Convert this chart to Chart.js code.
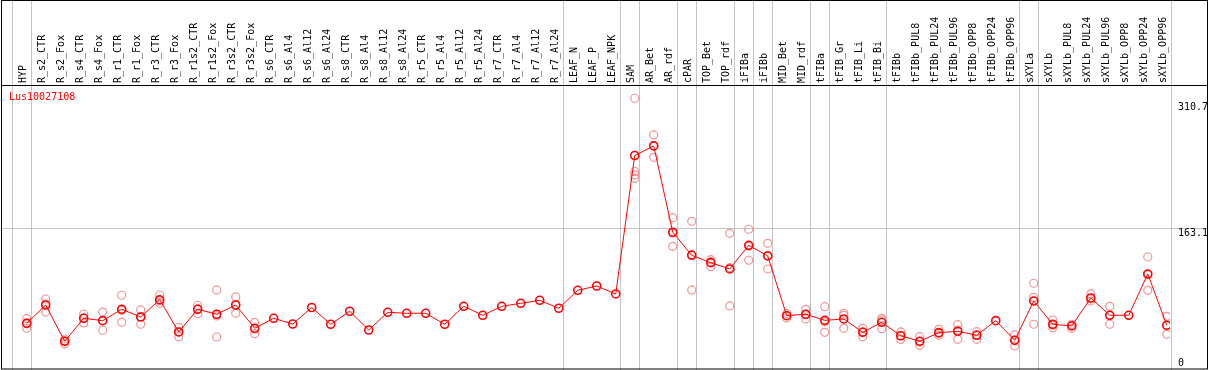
<!DOCTYPE html>
<html>
<head>
<meta charset="utf-8">
<script src="https://cdn.jsdelivr.net/npm/chart.js@4/dist/chart.umd.min.js"></script>
<style>
  html, body { margin: 0; padding: 0; background: #fff; }
  canvas { display: block; }
</style>
</head>
<body>
<canvas id="expr" width="1209" height="370"></canvas>
<script>
const geneName = 'Lus10027108';

const categories = [
  'HYP', 'R_s2_CTR', 'R_s2_Fox', 'R_s4_CTR', 'R_s4_Fox', 'R_r1_CTR', 'R_r1_Fox', 'R_r3_CTR', 'R_r3_Fox',
  'R_r1s2_CTR', 'R_r1s2_Fox', 'R_r3s2_CTR', 'R_r3s2_Fox',
  'R_s6_CTR', 'R_s6_Al4', 'R_s6_Al12', 'R_s6_Al24', 'R_s8_CTR', 'R_s8_Al4', 'R_s8_Al12', 'R_s8_Al24',
  'R_r5_CTR', 'R_r5_Al4', 'R_r5_Al12', 'R_r5_Al24', 'R_r7_CTR', 'R_r7_Al4', 'R_r7_Al12', 'R_r7_Al24',
  'LEAF_N', 'LEAF_P', 'LEAF_NPK', 'SAM', 'AR_Bet', 'AR_rdf', 'cPAR', 'TOP_Bet', 'TOP_rdf',
  'iFIBa', 'iFIBb', 'MID_Bet', 'MID_rdf', 'tFIBa', 'tFIB_Gr', 'tFIB_Li', 'tFIB_Bi', 'tFIBb',
  'tFIBb_PUL8', 'tFIBb_PUL24', 'tFIBb_PUL96', 'tFIBb_OPP8', 'tFIBb_OPP24', 'tFIBb_OPP96',
  'sXYLa', 'sXYLb', 'sXYLb_PUL8', 'sXYLb_PUL24', 'sXYLb_PUL96', 'sXYLb_OPP8', 'sXYLb_OPP24', 'sXYLb_OPP96'
];

// mean expression per sample
const means = [
  52.2, 73.6, 31.2, 58.1, 55.3, 68.6, 59.6, 79.8, 42.1, 68.6, 62.8, 73.6, 46.4,
  58.1, 51.4, 70.7, 51.1, 66.3, 44.4, 65.1, 63.9, 63.9, 51.1, 72.1, 61.6, 72.1, 75.6, 79.1, 69.8,
  90.8, 95.8, 86.5, 248.3, 259.5, 158.6, 131.7, 123.1, 115.7,
  143.4, 130.9, 61.1, 62.8, 55.7, 57.3, 41.7, 53.4, 37.7,
  31.2, 41.3, 42.9, 38.2, 55.3, 32.4,
  78.3, 51.1, 49.1, 81.8, 61.6, 61.6, 109.9, 49.9
];

// individual replicates (empty where none are drawn)
const replicates = [
  [57.6, 52.6, 46.4], [80.6, 74.8, 65.4], [33.9, 31.6, 28.0], [63.1, 58.4, 52.6], [65.4, 55.5, 44.1],
  [85.0, 67.4, 53.4], [67.8, 60.0, 51.1], [85.3, 78.7, 75.6], [47.6, 42.1, 36.6],
  [73.3, 69.0, 63.5], [91.2, 60.8, 36.2], [83.0, 74.0, 63.9], [53.4, 45.6, 40.1],
  [], [], [], [], [], [], [], [], [], [], [], [], [], [], [], [],
  [], [], [],
  [315.2, 229.6, 225.6, 221.5], [272.3, 259.8, 246.2], [175.7, 157.8, 142.2], [171.4, 132.4, 91.2],
  [126.6, 124.2, 118.4], [157.4, 117.2, 72.5],
  [162.1, 142.2, 125.9], [145.7, 131.2, 115.7], [63.7, 61.1, 58.4], [68.6, 62.3, 57.3],
  [71.6, 53.8, 41.7], [63.9, 61.6, 46.4], [46.4, 42.1, 36.6], [58.1, 56.1, 45.9], [42.1, 37.7, 33.5],
  [36.6, 30.4, 26.5], [45.2, 40.6, 38.2], [50.6, 44.4, 33.5], [42.4, 38.6, 33.5], [], [38.6, 32.7, 25.7],
  [99.0, 82.6, 51.1], [56.1, 49.9, 47.1], [51.1, 49.9, 46.4], [86.5, 80.6, 78.3], [72.1, 61.6, 51.1],
  [], [129.7, 109.0, 90.8], [60.4, 49.9, 39.4]
];

const yTicks = [0, 163.1, 310.7];

// last sample index of each tissue group (-1 = left edge)
const groupEnds = [-1, 0, 28, 31, 32, 34, 35, 37, 38, 39, 41, 42, 45, 52, 53, 60];

const monoFont = '"DejaVu Sans Mono", "Liberation Mono", monospace';

const frame = {
  id: 'frame',
  beforeDatasetsDraw(chart) {
    const { ctx, chartArea, scales: { x, y } } = chart;
    ctx.save();
    ctx.strokeStyle = '#c4c4c4';
    ctx.lineWidth = 1;
    groupEnds.forEach(i => {
      const px = Math.round(x.getPixelForValue(i) + 4) + 0.5;
      ctx.beginPath();
      ctx.moveTo(px, 0);
      ctx.lineTo(px, chart.height);
      ctx.stroke();
    });
    yTicks.slice(1, -1).forEach(v => {
      const py = Math.round(y.getPixelForValue(v)) + 0.5;
      ctx.beginPath();
      ctx.moveTo(chartArea.right, py);
      ctx.lineTo(chart.width - 2, py);
      ctx.stroke();
    });
    ctx.restore();
  },
  afterDraw(chart) {
    const { ctx, chartArea, scales: { y } } = chart;
    ctx.save();
    ctx.strokeStyle = '#000';
    ctx.lineWidth = 1;
    ctx.strokeRect(1.5, 0.5, chart.width - 3, chart.height - 1.5);
    ctx.beginPath();
    ctx.moveTo(1, chartArea.top - 0.5);
    ctx.lineTo(chart.width - 1, chartArea.top - 0.5);
    ctx.stroke();

    ctx.font = '10px ' + monoFont;
    ctx.textAlign = 'left';
    ctx.textBaseline = 'alphabetic';
    ctx.fillStyle = '#000';
    yTicks.forEach(v => {
      const py = y.getPixelForValue(v);
      ctx.fillText(String(v), chartArea.right + 8, v === 0 ? py - 2 : py + 8);
    });

    ctx.fillStyle = '#ff0000';
    ctx.fillText(chart.data.datasets[0].label, 9, chartArea.top + 14);
    ctx.restore();
  }
};

new Chart(document.getElementById('expr'), {
  type: 'scatter',
  data: {
    datasets: [
      {
        label: geneName,
        data: means.map((v, i) => ({ x: i, y: v })),
        showLine: true,
        borderColor: '#ff0000',
        borderWidth: 1,
        pointRadius: 4,
        pointBorderWidth: 1.6,
        pointBorderColor: '#ff0000',
        pointBackgroundColor: 'rgba(0,0,0,0)'
      },
      {
        label: geneName + ' replicates',
        data: replicates.flatMap((reps, i) => reps.map(v => ({ x: i, y: v }))),
        showLine: false,
        pointRadius: 4,
        pointBorderWidth: 1.2,
        pointBorderColor: '#f09494',
        pointBackgroundColor: 'rgba(0,0,0,0)'
      }
    ]
  },
  options: {
    responsive: false,
    animation: false,
    events: [],
    layout: { autoPadding: false, padding: { left: 2, right: 2, top: 0, bottom: 2 } },
    plugins: { legend: { display: false }, tooltip: { enabled: false } },
    scales: {
      x: {
        type: 'linear',
        position: 'top',
        min: -1.3,
        max: 60.17,
        afterBuildTicks: s => { s.ticks = categories.map((_, i) => ({ value: i })); },
        afterFit: s => { s.height = 86; s.paddingLeft = 0; s.paddingRight = 0; },
        grid: { display: false, drawTicks: false },
        border: { display: false },
        ticks: {
          autoSkip: false,
          minRotation: 90,
          maxRotation: 90,
          padding: 3,
          labelOffset: 8.5,
          color: '#000',
          font: { family: monoFont, size: 10 },
          callback: v => categories[v] ?? ''
        }
      },
      y: {
        position: 'right',
        min: 0,
        max: 329.5,
        afterBuildTicks: s => { s.ticks = yTicks.map(v => ({ value: v })); },
        afterFit: s => { s.width = 37; },
        grid: {
          drawTicks: false,
          color: c => (c.tick && c.tick.value === 163.1) ? '#c4c4c4' : 'rgba(0,0,0,0)'
        },
        border: { display: false },
        ticks: { display: false }
      }
    }
  },
  plugins: [frame]
});
</script>
</body>
</html>
